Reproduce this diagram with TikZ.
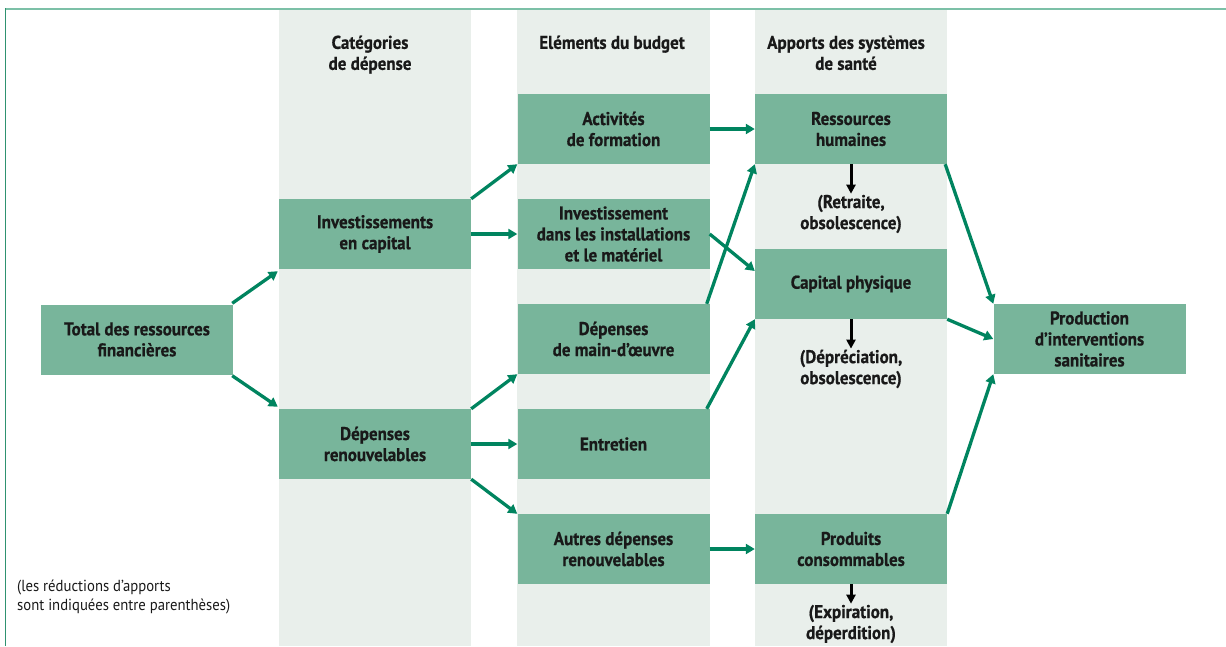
\documentclass[tikz,border=0pt]{standalone}
\usepackage{fontspec}
\setmainfont{PT Sans}[FakeStretch=0.92, BoldFeatures={FakeBold=0.6}]
\usepackage{tikz}
\usetikzlibrary{arrows.meta,calc}
\usepackage{xcolor}
\definecolor{fband}{HTML}{E9EFEB}
\definecolor{fbox}{HTML}{78B59B}
\definecolor{fflow}{HTML}{00845F}
\definecolor{frule}{HTML}{7CC0A7}
\definecolor{fedge}{HTML}{2F9270}
\newcommand{\boxfont}{\fontsize{18.5}{21}\selectfont\bfseries}
\newcommand{\notefont}{\fontsize{16}{18.5}\selectfont}
\tikzset{
  item/.style  = {fill=fbox, minimum width=192pt, minimum height=70pt,
                  inner sep=0pt, align=center, text=black!90, font=\boxfont},
  head/.style  = {anchor=north, align=center, text=black!90, font=\boxfont},
  loss/.style  = {align=center, inner sep=1pt, text=black!90, font=\boxfont},
  flow/.style  = {-{Triangle[length=9pt,width=10pt]}, line width=3.3pt, fflow},
  drop/.style  = {-{Triangle[length=9pt,width=9pt]}, line width=3pt, black},
}

\begin{document}
\begin{tikzpicture}[x=1pt,y=-1pt]
\useasboundingbox (0,0) rectangle (1226,646);
% column bands and frame
\fill[fband] (279,9) rectangle (471,646);
\fill[fband] (517,9) rectangle (710,646);
\fill[fband] (755,9) rectangle (947,646);
\draw[frule,line width=2pt] (5,8.5) -- (1226,8.5);
\draw[fedge,line width=1.5pt] (5.5,8) -- (5.5,646);
% column headings
\node[head] (hcat) at (370,32) {Catégories\\de dépense};
\node[head] (hbud) at (612,32) {Eléments du budget};
\node[head] (happ) at (846,32) {Apports des systèmes\\de santé};
% boxes
\node[item] (tot) at (137,339.5) {Total des ressources\\financières};
\node[item] (inv) at (375,234) {Investissements\\en capital};
\node[item] (ren) at (375,444) {Dépenses\\renouvelables};
\node[item] (act) at (613.5,129) {Activités\\de formation};
\node[item] (ins) at (613.5,234) {Investissement\\dans les installations\\et le matériel};
\node[item] (mo)  at (613.5,339) {Dépenses\\de main-d’œuvre};
\node[item] (ent) at (613.5,444) {Entretien};
\node[item] (aut) at (613.5,549) {Autres dépenses\\renouvelables};
\node[item] (rh)  at (851,129) {Ressources\\humaines};
\node[item] (cap) at (851,284) {Capital physique};
\node[item] (pro) at (851,549) {Produits\\consommables};
\node[item] (out) at (1089.5,339) {Production\\d’interventions\\sanitaires};
% reductions
\node[loss] (ret) at (851,214) {(Retraite,\\obsolescence)};
\node[loss] (dep) at (851,369) {(Dépréciation,\\obsolescence)};
\node[loss] (exp) at (851,624) {(Expiration,\\déperdition)};
\node[anchor=west,align=left,inner sep=0pt,text=black!90,font=\notefont] (note)
  at (17,597) {(les réductions d’apports\\sont indiquées entre parenthèses)};
% flows
\draw[flow] ([shift={(-1pt,1pt)}]tot.north east) -- ([shift={(-1pt,-2pt)}]inv.south west);
\draw[flow] ([shift={(-1pt,-1pt)}]tot.south east) -- ([shift={(-1pt,2pt)}]ren.north west);
\draw[flow] (inv.north east) -- (act.south west);
\draw[flow] (inv.east) -- (ins.west);
\draw[flow] (ren.north east) -- (mo.south west);
\draw[flow] (ren.east) -- (ent.west);
\draw[flow] (ren.south east) -- (aut.north west);
\draw[flow] (act.east) -- (rh.west);
\draw[flow] (ins.east) -- ([yshift=13pt]cap.west);
\draw[flow] ([xshift=-3pt]mo.north east) -- (rh.south west);
\draw[flow] ([xshift=-3pt]ent.north east) -- (cap.south west);
\draw[flow] (aut.east) -- (pro.west);
\draw[flow] ([xshift=-2pt]rh.south east) -- (out.north west);
\draw[flow] (cap.south east) -- (out.west);
\draw[flow] (pro.north east) -- (out.south west);
\draw[drop] (rh.south) -- (ret.north);
\draw[drop] (cap.south) -- (dep.north);
\draw[drop] (pro.south) -- (exp.north);
\end{tikzpicture}
\end{document}
